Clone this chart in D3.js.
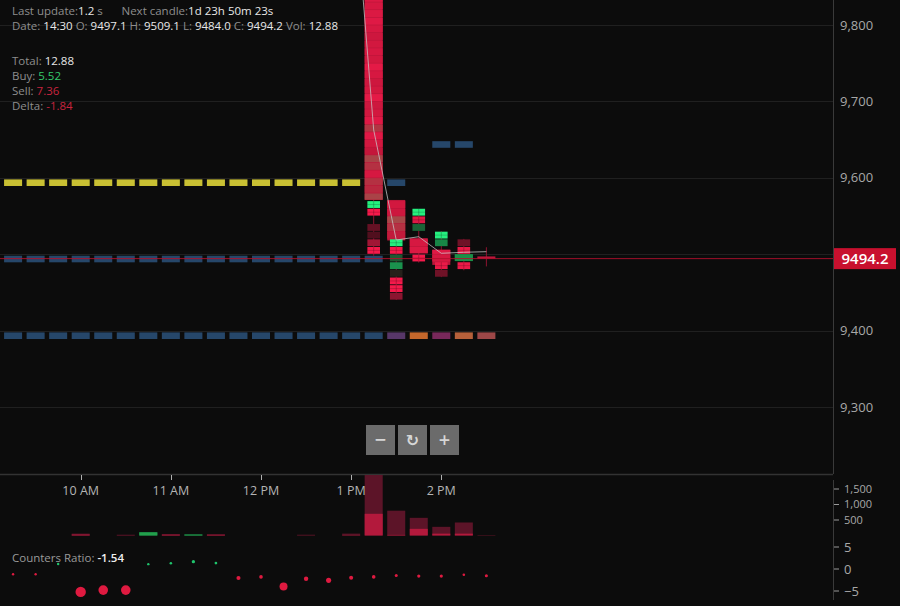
<!DOCTYPE html>
<html><head><meta charset="utf-8">
<script src="https://cdn.jsdelivr.net/npm/d3@7"></script>
<style>
html,body{margin:0;padding:0;background:#0c0c0c;}
svg{display:block;font-family:"Open Sans","Noto Sans",sans-serif;}
</style></head><body>
<svg id="chart" width="900" height="606"></svg>
<script>
// ================= DATA =================
const slotTimes = ["9:15","9:30","9:45","10:00","10:15","10:30","10:45","11:00","11:15","11:30","11:45",
  "12:00","12:15","12:30","12:45","13:00","13:15","13:30","13:45","14:00","14:15","14:30"];
const volumes      = [0,0,0,60,0,25,110,45,40,45,0,0,0,25,0,60,2300,800,570,280,420,13];
const volumeDeltas = [0,0,0,-30,0,-5,100,-25,25,-20,0,0,0,-3,0,-10,-700,-20,-215,-60,-60,-2];
const countersRatio = [-1.2,-1.2,1.14,-5.2,-4.8,-4.8,1.1,1.3,1.66,1.36,-2.05,-1.8,-4.0,-2.2,-2.57,-2.0,-1.8,-1.5,-1.6,-1.6,-1.3,-1.54];

const candleTimes = ["13:15","13:30","13:45","14:00","14:15","14:30"];
const candleOpen  = [9850, 9571, 9521, 9506, 9491, 9497.1];
const candleHigh  = [9850, 9571, 9559, 9530, 9520, 9509.1];
const candleLow   = [9498, 9440, 9489, 9470, 9479, 9484.0];
const candleClose = [9571, 9518, 9501, 9486, 9500, 9494.2];

// footprint cells: price level (10-point cells) and buy/sell imbalance (-1..1)
const footprintLevels = [
  [9840,9830,9820,9810,9800,9790,9780,9770,9760,9750,9740,9730,9720,9710,9700,9690,9680,9670,9660,9650,9640,9630,9620,9610,9600,9590,9580,9570,
   9560,9550,9530,9520,9510,9500],
  [9560,9550,9540,9530,9520,9510,9500,9490,9480,9470,9460,9450,9440],
  [9550,9540,9530,9510,9500,9490],
  [9520,9510,9500,9490,9480,9470],
  [9510,9500,9490,9480],
  []
];
const footprintValues = [
  [-0.8,-0.85,-0.8,-0.85,-0.9,-0.8,-0.7,-0.75,-0.8,-0.75,-0.95,-0.8,-0.7,-0.75,-0.95,-0.7,-0.75,-0.9,-0.25,-0.9,-0.75,-0.6,-0.1,-0.3,-0.8,-0.3,-0.4,-0.1,
   1.0,-1.0,-0.3,-0.2,-0.6,-1.0],
  [-0.75,-0.7,-0.05,-0.3,-0.55,1.0,-1.0,0.35,0.6,0.1,-1.0,-1.0,-0.5],
  [1.0,-0.9,0.4,-0.8,-0.85,-1.0],
  [1.0,0.55,-0.9,-0.8,-0.95,-0.35],
  [-0.35,-0.95,0.5,-0.95],
  []
];

const avgTimes  = ["13:00","13:15","13:30","13:45","14:00","14:15","14:30"];
const avgPrices = [10029, 9662.6, 9518.6, 9522.9, 9501.2, 9502.5, 9503.3];

// horizontal level markers: one price per row, one kind per time slot (null = none)
const levelPrices = [9593.6, 9493.7, 9393.3, 9643.6];
const B = "blue", Y = "yellow", N = null;
const levelKinds = [
  [Y,Y,Y,Y,Y,Y,Y,Y,Y,Y,Y,Y,Y,Y,Y,Y,N,B,N,N,N,N],
  [B,B,B,B,B,B,B,B,B,B,B,B,B,B,B,B,B,N,N,N,N,N],
  [B,B,B,B,B,B,B,B,B,B,B,B,B,B,B,B,B,"purple","orange","magenta","amber","rust"],
  [N,N,N,N,N,N,N,N,N,N,N,N,N,N,N,N,N,N,N,B,B,N]
];

const priceTicks  = [9300,9400,9500,9600,9700,9800];
const timeTicks   = ["10:00","11:00","12:00","13:00","14:00"];
const volumeTicks = [500,1000,1500];
const ratioTicks  = [-5,0,5];

const headerLabels = ["Date:","O:","H:","L:","C:","Vol:"];
const headerValues = ["14:30","9497.1","9509.1","9484.0","9494.2","12.88"];
const statLabels = ["Total:","Buy:","Sell:","Delta:"];
const statValues = ["12.88","5.52","7.36","-1.84"];
const lastUpdate = "1.2", nextCandle = "1d 23h 50m 23s";
const ratioLabel = "Counters Ratio:", ratioValue = "-1.54";

// ================= STYLE =================
const kindColors = {yellow:"#c9c033", blue:"#26476a", purple:"#573768", orange:"#c4672b",
  magenta:"#78285a", amber:"#b6603a", rust:"#9d4747"};
const W = 900, H = 606, plotR = 833, plotB = 474;
const volTop = 475, volBase = 535.5;

const svg = d3.select("#chart");
svg.append("rect").attr("width",W).attr("height",H).attr("fill","#0c0c0c");
const defs = svg.append("defs");
defs.append("clipPath").attr("id","clipMain").append("rect").attr("x",0).attr("y",0).attr("width",plotR).attr("height",plotB);
defs.append("clipPath").attr("id","clipVol").append("rect").attr("x",0).attr("y",volTop).attr("width",plotR).attr("height",volBase-volTop+1);

const parse = d3.timeParse("%H:%M");
const x = d3.scaleTime().domain([parse("10:00"), parse("14:00")]).range([80.7, 441.3]);
const slotW = x(parse("9:30")) - x(parse("9:15"));
const barW = slotW * 0.8;
const y = d3.scaleLinear().domain([9300, 9800]).range([407, 25]);
const yVol = d3.scaleLinear().domain([0, 1500]).range([volBase, 489]);
const yRatio = d3.scaleLinear().domain([-5, 5]).range([591, 547]);
const rScale = d3.scaleLinear().domain([0, 5]).range([0, 5]);

const cellColor = d3.scaleLinear().domain([-1,-0.5,0,0.5,1])
  .range(["#f51a4b","#8c1530","#2a0b12","#177a40","#25f07f"]).clamp(true);
const bodyRed = d3.scaleLinear().domain([-1,-0.6,0]).range(["#e81a48","#c4163a","#a44c4a"]).clamp(true);
const bodyGreen = d3.scaleLinear().domain([0,0.5,1]).range(["#25402e","#1a9048","#22e07a"]).clamp(true);

// ================= MAIN PANEL =================
const gm = svg.append("g").attr("clip-path","url(#clipMain)");

gm.selectAll("line.grid").data(priceTicks).join("line")
  .attr("x1",0).attr("x2",plotR).attr("y1",d=>Math.round(y(d))+0.5).attr("y2",d=>Math.round(y(d))+0.5)
  .attr("stroke","#202020").attr("stroke-width",1);

levelPrices.forEach((p,i)=>{
  const items = levelKinds[i].map((k,j)=>({k, t:slotTimes[j]})).filter(d=>d.k);
  gm.selectAll(null).data(items).join("rect")
    .attr("x",d=>x(parse(d.t))-barW/2).attr("width",barW)
    .attr("y",y(p)-3.3).attr("height",6.6)
    .attr("fill",d=>kindColors[d.k]);
});

const gc = gm.append("g");
candleTimes.forEach((t,i)=>{
  const cx = x(parse(t));
  const o=candleOpen[i], c=candleClose[i], hi=candleHigh[i], lo=candleLow[i];
  const up = c > o;
  const bTop = Math.max(o,c), bBot = Math.min(o,c);
  gc.append("line").attr("x1",cx).attr("x2",cx).attr("y1",y(hi)).attr("y2",y(lo))
    .attr("stroke","#8e1430").attr("stroke-width",1);
  gc.append("rect").attr("x",cx-barW/2).attr("width",barW)
    .attr("y",y(bTop)).attr("height",Math.max(2.5,y(bBot)-y(bTop)))
    .attr("fill",up ? "#1a9048" : "#bb163a");
  const cells = footprintLevels[i].map((L,j)=>({L, v:footprintValues[i][j]}));
  cells.forEach(d=>{ const mid = d.L + 5; d.inside = mid >= bBot && mid <= bTop; });
  cells.filter(d=>!d.inside).forEach(d=>{
    const w = barW*0.7;
    const yt = y(d.L+10), yb = y(d.L);
    gc.append("rect").attr("x",cx-w/2).attr("width",w).attr("y",yt+0.4).attr("height",yb-yt-0.8)
      .attr("fill",cellColor(d.v));
    if (Math.abs(d.v) > 0.7) {
      gc.append("line").attr("x1",cx).attr("x2",cx).attr("y1",yt+0.5).attr("y2",yb-0.5)
        .attr("stroke","#000").attr("stroke-opacity",0.22);
      gc.append("line").attr("x1",cx-w/2).attr("x2",cx+w/2).attr("y1",(yt+yb)/2).attr("y2",(yt+yb)/2)
        .attr("stroke","#000").attr("stroke-opacity",0.18);
    }
  });
  cells.filter(d=>d.inside).forEach(d=>{
    const top = Math.min(d.L+10, bTop), bot = Math.max(d.L, bBot);
    const yt = y(top), yb = y(bot);
    gc.append("rect").attr("x",cx-barW/2).attr("width",barW).attr("y",yt+0.3).attr("height",Math.max(1,yb-yt-0.6))
      .attr("fill", d.v >= 0 ? bodyGreen(d.v) : bodyRed(d.v));
  });
});

const avgData = avgTimes.map((t,i)=>({t:parse(t), p:avgPrices[i]}));
gm.append("path").datum(avgData)
  .attr("d", d3.line().x(d=>x(d.t)).y(d=>y(d.p)))
  .attr("fill","none").attr("stroke","#c8c8c8").attr("stroke-opacity",0.75).attr("stroke-width",1);

const lastPrice = candleClose[candleClose.length-1];
gm.append("line").attr("x1",0).attr("x2",plotR).attr("y1",y(lastPrice)).attr("y2",y(lastPrice))
  .attr("stroke","#b0102e").attr("stroke-opacity",0.9).attr("stroke-width",1);

svg.append("line").attr("x1",0).attr("x2",plotR).attr("y1",plotB+0.5).attr("y2",plotB+0.5).attr("stroke","#333").attr("stroke-width",1.5);
svg.append("line").attr("x1",plotR+0.5).attr("x2",plotR+0.5).attr("y1",0).attr("y2",plotB).attr("stroke","#3a3a3a");
svg.append("line").attr("x1",plotR+0.5).attr("x2",plotR+0.5).attr("y1",480).attr("y2",600).attr("stroke","#3a3a3a");

// price axis labels (the one hidden behind the last-price tag is not drawn)
const tagTop = y(lastPrice)-10.5, tagBot = y(lastPrice)+10.5;
svg.selectAll("text.py").data(priceTicks.filter(d=>y(d) < tagTop-6 || y(d) > tagBot+6)).join("text")
  .attr("x",840).attr("y",d=>y(d)).attr("dy","0.35em")
  .attr("fill","#a8a8a8").attr("font-size",13).text(d=>d3.format(",")(d));

svg.append("rect").attr("x",834).attr("y",tagTop).attr("width",62).attr("height",21).attr("fill","#c8102e");
svg.append("text").attr("x",865).attr("y",y(lastPrice)).attr("dy","0.36em").attr("text-anchor","middle")
  .attr("fill","#fff").attr("font-size",15).attr("font-weight",600).text(d3.format(".1f")(lastPrice));

// ================= VOLUME PANEL =================
const gv = svg.append("g").attr("clip-path","url(#clipVol)");
const volData = slotTimes.map((t,i)=>({t:parse(t), v:volumes[i], d:volumeDeltas[i]})).filter(d=>d.v>0);
gv.selectAll("rect.vt").data(volData).join("rect")
  .attr("x",d=>x(d.t)-barW/2).attr("width",barW)
  .attr("y",d=>yVol(d.v)).attr("height",d=>volBase-yVol(d.v))
  .attr("fill",d=>d.d>=0 ? "#17703a" : "#5c1428");
gv.selectAll("rect.vd").data(volData).join("rect")
  .attr("x",d=>x(d.t)-barW/2).attr("width",barW)
  .attr("y",d=>yVol(Math.abs(d.d))).attr("height",d=>volBase-yVol(Math.abs(d.d)))
  .attr("fill",d=>d.d>=0 ? "#22a04c" : "#b3193c");

const fmtT = d3.timeFormat("%-I %p");
svg.selectAll("line.xt").data(timeTicks).join("line")
  .attr("x1",d=>Math.round(x(parse(d)))+0.5).attr("x2",d=>Math.round(x(parse(d)))+0.5)
  .attr("y1",475).attr("y2",480).attr("stroke","#b0b0b0");
svg.selectAll("text.xl").data(timeTicks).join("text")
  .attr("x",d=>x(parse(d))).attr("y",495).attr("text-anchor","middle")
  .attr("fill","#b4b4b4").attr("font-size",12.5).text(d=>fmtT(parse(d)));

svg.selectAll("line.vtk").data(volumeTicks).join("line")
  .attr("x1",834).attr("x2",839).attr("y1",d=>yVol(d)).attr("y2",d=>yVol(d)).attr("stroke","#9a9a9a");
svg.selectAll("text.vtl").data(volumeTicks).join("text")
  .attr("x",844).attr("y",d=>yVol(d)).attr("dy","0.35em")
  .attr("fill","#a8a8a8").attr("font-size",11).text(d=>d3.format(",")(d));

// ================= RATIO PANEL =================
const ratioData = slotTimes.map((t,i)=>({t:parse(t), v:countersRatio[i]}));
svg.selectAll("circle.rd").data(ratioData).join("circle")
  .attr("cx",d=>x(d.t)).attr("cy",d=>yRatio(d.v))
  .attr("r",d=>Math.max(1.2, rScale(Math.abs(d.v))))
  .attr("fill",d=>d.v>=0 ? "#1fc46c" : "#df1a40");
svg.selectAll("line.rtk").data(ratioTicks).join("line")
  .attr("x1",834).attr("x2",839).attr("y1",d=>yRatio(d)).attr("y2",d=>yRatio(d)).attr("stroke","#9a9a9a");
svg.selectAll("text.rtl").data(ratioTicks).join("text")
  .attr("x",844).attr("y",d=>yRatio(d)).attr("dy","0.35em")
  .attr("fill","#a8a8a8").attr("font-size",13).text(d=>d3.format("")(d));

const rt = svg.append("text").attr("x",12).attr("y",562).attr("font-size",11.5).attr("fill","#9a9a9a");
rt.append("tspan").text(ratioLabel + " ");
rt.append("tspan").attr("fill","#f0f0f0").attr("font-weight",600).text(ratioValue);

// ================= HEADER TEXT =================
const grey = "#8e8e8e", white = "#e8e8e8";
const l1 = svg.append("text").attr("x",12).attr("y",15).attr("font-size",11.5);
l1.append("tspan").attr("fill",grey).text("Last update:");
l1.append("tspan").attr("fill",white).text(lastUpdate);
l1.append("tspan").attr("fill",grey).text(" s");
const l1b = svg.append("text").attr("x",121.5).attr("y",15).attr("font-size",11.5);
l1b.append("tspan").attr("fill",grey).text("Next candle:");
l1b.append("tspan").attr("fill",white).text(nextCandle);

const l2 = svg.append("text").attr("x",12).attr("y",30).attr("font-size",11.5);
headerLabels.forEach((lab,i)=>{
  l2.append("tspan").attr("fill",grey).text((i?" ":"") + lab + " ");
  l2.append("tspan").attr("fill",white).text(headerValues[i]);
});

const statColors = [white, "#35c96b", "#c8243f", "#c8243f"];
statLabels.forEach((lab,i)=>{
  const t = svg.append("text").attr("x",12).attr("y",65 + i*15).attr("font-size",11.5);
  t.append("tspan").attr("fill",grey).text(lab + " ");
  t.append("tspan").attr("fill",statColors[i]).text(statValues[i]);
});

// ================= ZOOM BUTTONS =================
const btnSyms = ["−","↻","+"];
const gb = svg.append("g");
btnSyms.forEach((s,i)=>{
  const bx = 366 + i*32;
  gb.append("rect").attr("x",bx).attr("y",425).attr("width",29).attr("height",30).attr("fill","#6b6b6b");
  gb.append("text").attr("x",bx+14.5).attr("y",440).attr("dy","0.35em").attr("text-anchor","middle")
    .attr("font-family", i===1 ? "DejaVu Sans" : "Open Sans")
    .attr("font-size", i===1 ? 16 : 20).attr("font-weight",600).attr("fill","#d6d6d6").text(s);
});
</script>
</body></html>
